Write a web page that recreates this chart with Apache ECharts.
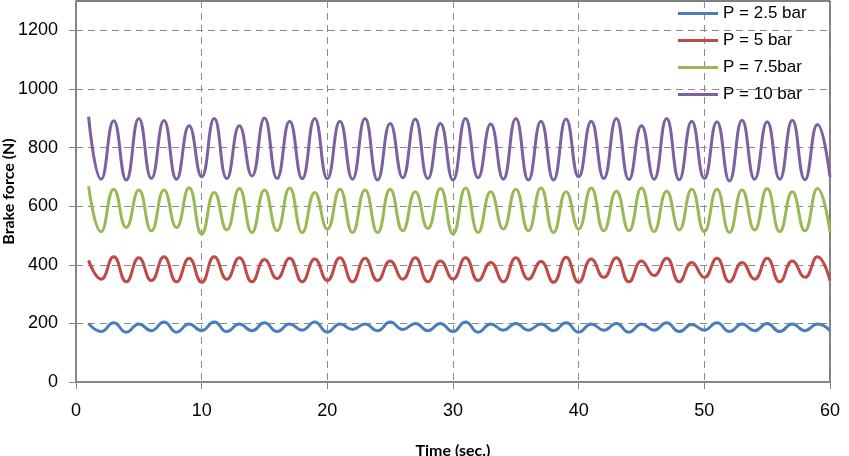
<!DOCTYPE html>
<html>
<head>
<meta charset="utf-8">
<script src="https://cdn.jsdelivr.net/npm/echarts@6/dist/echarts.min.js"></script>
<style>
  html, body { margin: 0; padding: 0; background: #fff; }
  #chart { width: 849px; height: 456px; }
</style>
</head>
<body>
<div id="chart"></div>
<script>
  const timeSec = [1, 2, 3, 4, 5, 6, 7, 8, 9, 10, 11, 12, 13, 14, 15, 16, 17, 18, 19, 20,
    21, 22, 23, 24, 25, 26, 27, 28, 29, 30, 31, 32, 33, 34, 35, 36, 37, 38, 39, 40,
    41, 42, 43, 44, 45, 46, 47, 48, 49, 50, 51, 52, 53, 54, 55, 56, 57, 58, 59, 60];

  const p25 = [200, 172, 202, 170, 198, 175, 205, 170, 198, 175, 205, 172, 198, 175, 202, 172, 198, 177, 205, 170,
    198, 179, 198, 175, 205, 179, 200, 175, 200, 172, 205, 170, 198, 177, 200, 177, 198, 175, 202, 170,
    198, 177, 200, 170, 198, 177, 202, 172, 196, 177, 202, 172, 198, 175, 200, 172, 198, 175, 198, 175];

  const p5 = [415, 351, 427, 342, 424, 346, 427, 342, 422, 340, 427, 351, 424, 342, 418, 353, 422, 342, 420, 346,
    424, 342, 422, 346, 413, 351, 424, 342, 413, 351, 424, 346, 408, 342, 424, 351, 411, 340, 426, 340,
    420, 357, 424, 342, 413, 363, 422, 342, 408, 357, 422, 342, 408, 351, 422, 342, 413, 357, 427, 346];

  const p75 = [668, 513, 658, 527, 655, 516, 655, 527, 663, 505, 647, 519, 660, 510, 655, 516, 662, 510, 647, 522,
    658, 510, 655, 510, 658, 516, 649, 524, 660, 505, 662, 510, 649, 522, 658, 516, 662, 510, 649, 522,
    662, 516, 651, 516, 662, 513, 651, 519, 658, 513, 658, 510, 655, 519, 660, 513, 649, 516, 660, 512];

  const p10 = [905, 692, 891, 689, 899, 694, 892, 692, 874, 700, 899, 694, 874, 703, 901, 694, 890, 694, 899, 694,
    890, 692, 899, 689, 882, 697, 897, 694, 882, 689, 899, 697, 880, 692, 899, 689, 890, 689, 897, 700,
    890, 694, 899, 691, 874, 692, 899, 690, 890, 694, 888, 686, 893, 692, 888, 692, 893, 690, 879, 700];

  const seriesNames = ['P = 2.5 bar', 'P = 5 bar', 'P = 7.5bar', 'P = 10 bar'];
  const seriesColors = ['#4a7ebb', '#be4b48', '#98b954', '#7d60a0'];
  const yTicks = [0, 200, 400, 600, 800, 1000, 1200];

  function pairs(vals) {
    let out = [];
    for (let i = 0; i < timeSec.length; i++) {
      out.push([timeSec[i], vals[i]]);
    }
    return out;
  }

  const chart = echarts.init(document.getElementById('chart'));
  const allData = [p25, p5, p75, p10];

  let series = [];
  for (let i = 0; i < allData.length; i++) {
    series.push({
      name: seriesNames[i],
      type: 'line',
      smooth: true,
      symbol: 'none',
      data: pairs(allData[i]),
      lineStyle: { width: 3, color: seriesColors[i] },
      itemStyle: { color: seriesColors[i] }
    });
  }

  const gridDash = { color: '#8c8c8c', width: 1, type: [7, 5] };

  let option = {
    animation: false,
    backgroundColor: '#fff',
    grid: {
      left: 76, right: 19, top: 1, bottom: 74,
      containLabel: false,
      outerBoundsMode: 'none',
      show: true, borderColor: '#000', borderWidth: 1
    },
    legend: {
      orient: 'vertical',
      left: 678,
      top: 4,
      padding: 0,
      icon: 'rect',
      itemWidth: 40,
      itemHeight: 3,
      itemGap: 8,
      data: seriesNames,
      textStyle: { fontFamily: 'Liberation Sans', fontSize: 17, color: '#000', lineHeight: 19 }
    },
    xAxis: {
      type: 'value',
      min: 0, max: 60, interval: 10,
      name: 'Time (sec.)',
      nameLocation: 'middle',
      nameGap: 61,
      nameMoveOverlap: false,
      nameTextStyle: { fontFamily: 'Lato', fontWeight: 'bold', fontSize: 16, color: '#000' },
      axisLine: { show: true, lineStyle: { color: '#868686', width: 2 } },
      axisTick: { show: true, inside: false, length: 7, lineStyle: { color: '#868686' } },
      axisLabel: { fontFamily: 'Liberation Sans', fontSize: 18, color: '#000', margin: 20 },
      splitLine: { show: true, lineStyle: gridDash }
    },
    yAxis: {
      type: 'value',
      min: 0, max: 1300, interval: 200,
      name: 'Brake force (N)',
      nameLocation: 'middle',
      nameGap: 59,
      nameMoveOverlap: false,
      nameTextStyle: { fontFamily: 'Lato', fontWeight: 'bold', fontSize: 16, color: '#000' },
      axisLine: { show: true, lineStyle: { color: '#868686', width: 2 } },
      axisTick: { show: true, length: 7, customValues: yTicks, lineStyle: { color: '#868686' } },
      axisLabel: {
        fontFamily: 'Liberation Sans', fontSize: 18, color: '#000', margin: 18,
        customValues: yTicks,
        formatter: function (v) { return String(v); }
      },
      splitLine: { show: true, lineStyle: gridDash }
    },
    series: series
  };

  chart.setOption(option);
  window.addEventListener('resize', function () {
    chart.resize();
  });
</script>
</body>
</html>
